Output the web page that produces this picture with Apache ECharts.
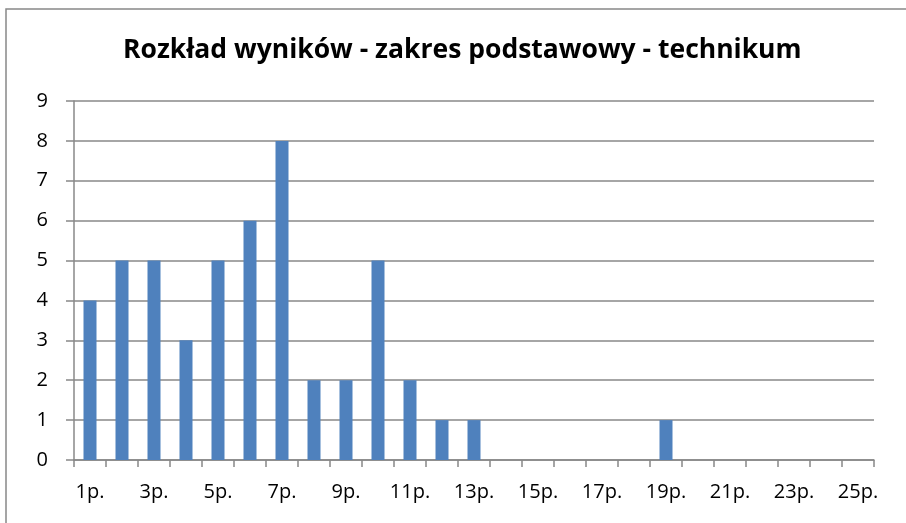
<!DOCTYPE html>
<html>
<head>
<meta charset="utf-8">
<script src="https://cdn.jsdelivr.net/npm/echarts@6/dist/echarts.min.js"></script>
<style>html,body{margin:0;padding:0;background:#fff;}#c{width:906px;height:523px;}</style>
</head>
<body>
<div id="c"></div>
<script>
const titleText = 'Rozkład wyników - zakres podstawowy - technikum';
const categories = ['1p.','2p.','3p.','4p.','5p.','6p.','7p.','8p.','9p.','10p.','11p.','12p.','13p.','14p.','15p.','16p.','17p.','18p.','19p.','20p.','21p.','22p.','23p.','24p.','25p.'];
const values = [4,5,5,3,5,6,8,2,2,5,2,1,1,0,0,0,0,0,1,0,0,0,0,0,0];
const yMin = 0, yMax = 9, yStep = 1;

const chart = echarts.init(document.getElementById('c'));
const font = 'Open Sans, Liberation Sans, sans-serif';
chart.setOption({
  animation: false,
  title: {
    text: titleText, left: 123, top: 37, padding: 0,
    textStyle: {fontFamily: font, fontWeight: 'bold', fontSize: 26.5, color: '#000'}
  },
  graphic: [{type: 'rect', shape: {x: 6, y: 9, width: 920, height: 540}, style: {fill: 'none', stroke: '#888', lineWidth: 1.5}, z: -1}],
  grid: {left: 74, right: 32, top: 101, bottom: 63},
  xAxis: {
    type: 'category', data: categories, boundaryGap: true,
    axisLine: {lineStyle: {color: '#888', width: 1.5}},
    axisTick: {show: true, interval: 0, length: 7, lineStyle: {color: '#888', width: 1.5}},
    axisLabel: {interval: 1, color: '#000', fontFamily: font, fontSize: 20, margin: 22}
  },
  yAxis: {
    type: 'value', min: yMin, max: yMax, interval: yStep,
    axisLine: {show: true, lineStyle: {color: '#888', width: 1.5}},
    axisTick: {show: true, length: 8, lineStyle: {color: '#888', width: 1.5}},
    splitLine: {lineStyle: {color: '#888', width: 1.5}},
    axisLabel: {color: '#000', fontFamily: font, fontSize: 20, margin: 26}
  },
  series: [{type: 'bar', data: values, barWidth: 13, itemStyle: {color: '#4f81bd'}}]
});
</script>
</body>
</html>
